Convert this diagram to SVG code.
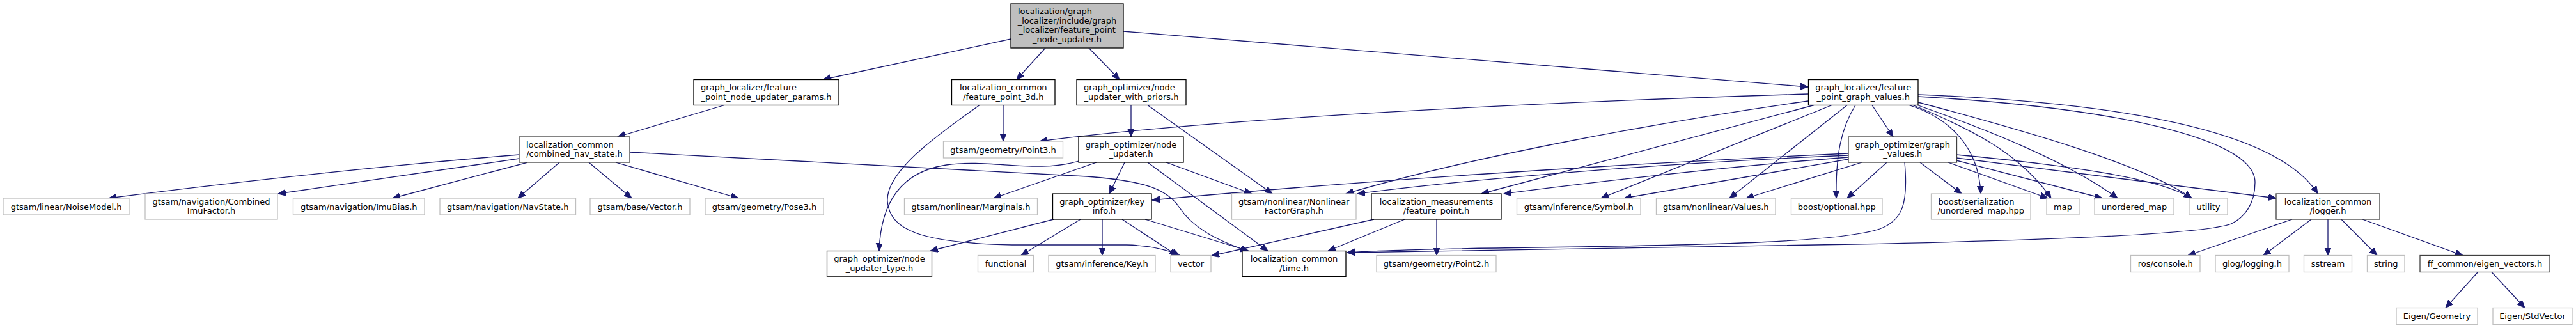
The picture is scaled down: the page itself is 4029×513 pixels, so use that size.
<svg xmlns="http://www.w3.org/2000/svg" width="4029" height="513" viewBox="0 0 4029 513">
<defs>
<marker id="a" markerUnits="userSpaceOnUse" markerWidth="14" markerHeight="11" refX="12" refY="5" orient="auto">
<path d="M0,0 L12,5 L0,10 z" fill="#191970" stroke="#191970" stroke-width="1"/>
</marker>
</defs>
<style>
rect{fill:#fff;stroke-width:1.3}
.d rect{stroke:#000}
.e rect{stroke:#bfbfbf}
.g rect{stroke:#404040}
.t rect{fill:#bfbfbf;stroke:#000}
text{font-family:"DejaVu Sans","Liberation Sans",sans-serif;font-size:13px;fill:#000;text-anchor:middle}
text.l{text-anchor:start}
#edges path{fill:none;stroke:#191970;stroke-width:1.3;marker-end:url(#a)}
</style>
<rect x="0" y="0" width="4029" height="513" style="fill:#fff;stroke:none"/>
<g id="edges">
<path d="M1581,61 L1287,124.5"/>
<path d="M1635,75 L1590,124.5"/>
<path d="M1703,75 L1751,124.5"/>
<path d="M1757,49 L2828,136"/>
<path d="M1133,164.5 L966,214"/>
<path d="M812,242 C650,255 400,280 170,310"/>
<path d="M812,248 L435,303"/>
<path d="M825,254 L614,310"/>
<path d="M875,254 L810,310"/>
<path d="M921,254 L988,310"/>
<path d="M963,254 L1155,310"/>
<path d="M985,238 L1700,276 C1790,283 1825,295 1845,325 C1865,355 1900,375 1952,392.5"/>
<path d="M1569,164.5 L1569,221"/>
<path d="M1532,164.5 C1460,215 1385,270 1388,315 C1392,360 1440,380 1583,383 L1762,383 C1800,384 1825,390 1845,399.5"/>
<path d="M1769,164.5 L1769,214"/>
<path d="M1795,164.5 L1990,303"/>
<path d="M1687,252 C1620,272 1550,248 1480,258 C1400,270 1377,330 1375,392.5"/>
<path d="M1715,254 L1554,310"/>
<path d="M1759,254 L1735,303"/>
<path d="M1795,254 L1983,392.5"/>
<path d="M1824,254 L1958,303"/>
<path d="M1648,343 L1455,392.5"/>
<path d="M1690,343 L1597,399.5"/>
<path d="M1724,343 L1724,399.5"/>
<path d="M1755,343 L1841,399.5"/>
<path d="M1791,343 L1953,392.5"/>
<path d="M2828,147 C2400,160 1900,185 1626,221"/>
<path d="M2828,158 C2600,190 2300,245 2105,303"/>
<path d="M2837,164.5 L2317,303"/>
<path d="M2865,164.5 L2504,310"/>
<path d="M2889,164.5 L2705,310"/>
<path d="M2902,164.5 C2880,200 2871,240 2872,310"/>
<path d="M2928,164.5 L2961,214"/>
<path d="M2986,164.5 C3050,185 3095,230 3098,303"/>
<path d="M2992,164.5 C3080,200 3160,240 3208,310"/>
<path d="M2999,164.5 C3100,200 3230,250 3312,310"/>
<path d="M3000,160 C3150,200 3350,255 3428,310"/>
<path d="M3000,148 C3300,160 3560,200 3625,303"/>
<path d="M3000,151 C3300,168 3527,215 3527,285 C3527,320 3510,340 3490,350 C3450,365 3250,375 2900,382 C2600,387 2300,390 2107,395"/>
<path d="M2891,240 C2500,258 2100,285 1802,313"/>
<path d="M2891,243 C2600,255 2300,280 2123,303"/>
<path d="M2891,246 C2700,260 2450,290 2352,303"/>
<path d="M2891,249 L2540,310"/>
<path d="M2912,254 L2731,310"/>
<path d="M2951,254 L2889,310"/>
<path d="M2979,254 C2985,320 2975,345 2940,358 C2880,378 2700,383 2400,387 C2250,389 2150,392 2107,395"/>
<path d="M3003,254 L3068,303"/>
<path d="M3047,254 L3203,310"/>
<path d="M3060,251 L3288,310"/>
<path d="M3060,242 C3250,260 3380,280 3428,310"/>
<path d="M3060,247 L3560,310"/>
<path d="M2197,343 L2077,392.5"/>
<path d="M2247,343 L2247,399.5"/>
<path d="M2149,343 L1895,400"/>
<path d="M3585,343 L3422,399.5"/>
<path d="M3615,343 L3540,399.5"/>
<path d="M3641,343 L3641,399.5"/>
<path d="M3662,343 L3718,399.5"/>
<path d="M3695,343 L3852,399.5"/>
<path d="M3875.5,425.5 L3825,481.5"/>
<path d="M3897,425.5 L3949,481.5"/>
</g>
<g id="n_top" class="t"><rect x="1581" y="6" width="176" height="69"/><text class="l" x="1592" y="22">localization/graph</text><text x="1669" y="36.7">_localizer/include/graph</text><text x="1669" y="51.3">_localizer/feature_point</text><text x="1669" y="66">_node_updater.h</text></g>
<g id="n_params" class="d"><rect x="1085" y="124.5" width="227" height="40"/><text class="l" x="1096" y="141">graph_localizer/feature</text><text x="1198.5" y="155.5">_point_node_updater_params.h</text></g>
<g id="n_fp3d" class="d"><rect x="1488.5" y="124.5" width="161.5" height="40"/><text x="1569.25" y="141">localization_common</text><text x="1569.25" y="155.5">/feature_point_3d.h</text></g>
<g id="n_priors" class="d"><rect x="1684" y="124.5" width="171" height="40"/><text class="l" x="1695" y="141">graph_optimizer/node</text><text x="1769.5" y="155.5">_updater_with_priors.h</text></g>
<g id="n_fpgv" class="d"><rect x="2828.5" y="124.5" width="171.5" height="40"/><text x="2914.25" y="141">graph_localizer/feature</text><text x="2914.25" y="155.5">_point_graph_values.h</text></g>
<g id="n_cns" class="g"><rect x="812" y="214" width="173" height="40"/><text class="l" x="823" y="230.5">localization_common</text><text x="898.5" y="245">/combined_nav_state.h</text></g>
<g id="n_point3" class="e"><rect x="1475.5" y="221" width="187" height="26"/><text x="1569" y="238.5">gtsam/geometry/Point3.h</text></g>
<g id="n_nu" class="d"><rect x="1687" y="214" width="164" height="40"/><text x="1769" y="230.5">graph_optimizer/node</text><text x="1769" y="245">_updater.h</text></g>
<g id="n_gv" class="g"><rect x="2891" y="214" width="169.5" height="40"/><text x="2975.75" y="230.5">graph_optimizer/graph</text><text x="2975.75" y="245">_values.h</text></g>
<g id="n_noise" class="e"><rect x="5" y="310" width="197" height="26"/><text x="103.5" y="327.5">gtsam/linear/NoiseModel.h</text></g>
<g id="n_cimu" class="e"><rect x="227" y="303" width="207" height="40"/><text x="330.5" y="319.5">gtsam/navigation/Combined</text><text x="330.5" y="334">ImuFactor.h</text></g>
<g id="n_imubias" class="e"><rect x="458.5" y="310" width="205.5" height="26"/><text x="561.25" y="327.5">gtsam/navigation/ImuBias.h</text></g>
<g id="n_navstate" class="e"><rect x="688" y="310" width="212.5" height="26"/><text x="794.25" y="327.5">gtsam/navigation/NavState.h</text></g>
<g id="n_vector_h" class="e"><rect x="923" y="310" width="156" height="26"/><text x="1001" y="327.5">gtsam/base/Vector.h</text></g>
<g id="n_pose3" class="e"><rect x="1103" y="310" width="185" height="26"/><text x="1195.5" y="327.5">gtsam/geometry/Pose3.h</text></g>
<g id="n_marginals" class="e"><rect x="1414.5" y="310" width="208" height="26"/><text x="1518.5" y="327.5">gtsam/nonlinear/Marginals.h</text></g>
<g id="n_keyinfo" class="d"><rect x="1646.5" y="303" width="154.5" height="40"/><text x="1723.75" y="319.5">graph_optimizer/key</text><text x="1723.75" y="334">_info.h</text></g>
<g id="n_nfg" class="e"><rect x="1926.5" y="303" width="194.5" height="40"/><text x="2023.75" y="319.5">gtsam/nonlinear/Nonlinear</text><text x="2023.75" y="334">FactorGraph.h</text></g>
<g id="n_fp" class="d"><rect x="2145" y="303" width="203" height="40"/><text x="2246.5" y="319.5">localization_measurements</text><text x="2246.5" y="334">/feature_point.h</text></g>
<g id="n_symbol" class="e"><rect x="2372.5" y="310" width="193.5" height="26"/><text x="2469.25" y="327.5">gtsam/inference/Symbol.h</text></g>
<g id="n_values" class="e"><rect x="2590.5" y="310" width="186.5" height="26"/><text x="2683.75" y="327.5">gtsam/nonlinear/Values.h</text></g>
<g id="n_optional" class="e"><rect x="2801.5" y="310" width="142.5" height="26"/><text x="2872.75" y="327.5">boost/optional.hpp</text></g>
<g id="n_ser" class="e"><rect x="3020.5" y="303" width="155.5" height="40"/><text class="l" x="3031.5" y="319.5">boost/serialization</text><text x="3098.25" y="334">/unordered_map.hpp</text></g>
<g id="n_map" class="e"><rect x="3201" y="310" width="51" height="26"/><text x="3226.5" y="327.5">map</text></g>
<g id="n_umap" class="e"><rect x="3276" y="310" width="124" height="26"/><text x="3338" y="327.5">unordered_map</text></g>
<g id="n_utility" class="e"><rect x="3424" y="310" width="60" height="26"/><text x="3454" y="327.5">utility</text></g>
<g id="n_logger" class="g"><rect x="3560" y="303" width="162" height="40"/><text x="3641" y="319.5">localization_common</text><text x="3641" y="334">/logger.h</text></g>
<g id="n_nut" class="g"><rect x="1293.5" y="392.5" width="164" height="40"/><text x="1375.5" y="409">graph_optimizer/node</text><text x="1375.5" y="423.5">_updater_type.h</text></g>
<g id="n_functional" class="e"><rect x="1529.5" y="399.5" width="87" height="26"/><text x="1573" y="417">functional</text></g>
<g id="n_key" class="e"><rect x="1640" y="399.5" width="167" height="26"/><text x="1723.5" y="417">gtsam/inference/Key.h</text></g>
<g id="n_vector" class="e"><rect x="1831" y="399.5" width="63" height="26"/><text x="1862.5" y="417">vector</text></g>
<g id="n_time" class="d"><rect x="1943" y="392.5" width="162" height="40"/><text x="2024" y="409">localization_common</text><text x="2024" y="423.5">/time.h</text></g>
<g id="n_point2" class="e"><rect x="2153" y="399.5" width="187" height="26"/><text x="2246.5" y="417">gtsam/geometry/Point2.h</text></g>
<g id="n_ros" class="e"><rect x="3332.5" y="399.5" width="108.5" height="26"/><text x="3386.75" y="417">ros/console.h</text></g>
<g id="n_glog" class="e"><rect x="3465" y="399.5" width="115" height="26"/><text x="3522.5" y="417">glog/logging.h</text></g>
<g id="n_sstream" class="e"><rect x="3603.5" y="399.5" width="75" height="26"/><text x="3641" y="417">sstream</text></g>
<g id="n_string" class="e"><rect x="3702.5" y="399.5" width="58.5" height="26"/><text x="3731.75" y="417">string</text></g>
<g id="n_eigvec" class="g"><rect x="3785" y="399.5" width="203" height="26"/><text x="3886.5" y="417">ff_common/eigen_vectors.h</text></g>
<g id="n_geom" class="e"><rect x="3748" y="481.5" width="127" height="26"/><text x="3811.5" y="499">Eigen/Geometry</text></g>
<g id="n_stdvec" class="e"><rect x="3899" y="481.5" width="124" height="26"/><text x="3961" y="499">Eigen/StdVector</text></g>
</svg>
